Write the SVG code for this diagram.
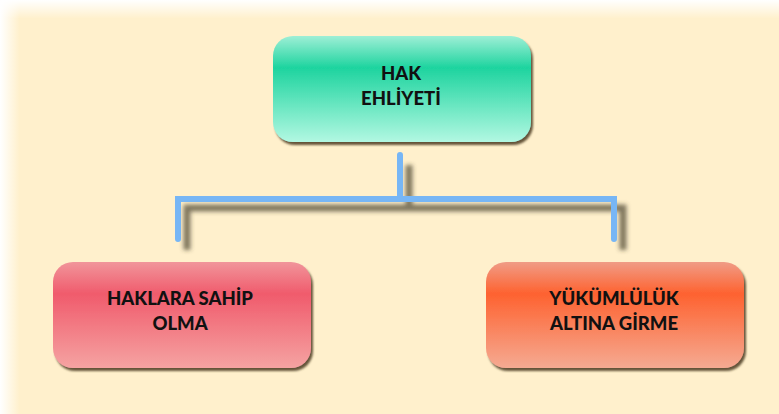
<svg xmlns="http://www.w3.org/2000/svg" width="779" height="414" viewBox="0 0 779 414">
<defs>
<linearGradient id="bgx" x1="0" y1="0" x2="1" y2="0">
<stop offset="0" stop-color="#FFFFFF"/><stop offset="0.025" stop-color="#FFF0CC"/><stop offset="1" stop-color="#FFF0CC"/>
</linearGradient>
<linearGradient id="bgy" x1="0" y1="0" x2="0" y2="1">
<stop offset="0" stop-color="#FFFFFF" stop-opacity="1"/><stop offset="0.045" stop-color="#FFFFFF" stop-opacity="0"/><stop offset="1" stop-color="#FFFFFF" stop-opacity="0"/>
</linearGradient>
<linearGradient id="gGreen" x1="0" y1="0" x2="0" y2="1">
<stop offset="0" stop-color="#9EEFD6"/><stop offset="0.3" stop-color="#1ED49F"/><stop offset="1" stop-color="#B2F8E2"/>
</linearGradient>
<linearGradient id="gPink" x1="0" y1="0" x2="0" y2="1">
<stop offset="0" stop-color="#F1959B"/><stop offset="0.3" stop-color="#F05B6C"/><stop offset="1" stop-color="#F5A3A2"/>
</linearGradient>
<linearGradient id="gOrange" x1="0" y1="0" x2="0" y2="1">
<stop offset="0" stop-color="#F09C86"/><stop offset="0.3" stop-color="#FE6230"/><stop offset="1" stop-color="#F5AA92"/>
</linearGradient>
<filter id="boxShadow" x="-10%" y="-10%" width="125%" height="130%">
<feGaussianBlur in="SourceAlpha" stdDeviation="1"/>
<feOffset dx="2" dy="3" result="o"/>
<feFlood flood-color="#4A3A20" flood-opacity="0.85"/>
<feComposite in2="o" operator="in"/>
<feMerge><feMergeNode/><feMergeNode in="SourceGraphic"/></feMerge>
</filter>
<filter id="lineShadow" x="-20%" y="-50%" width="140%" height="200%">
<feGaussianBlur stdDeviation="2"/>
</filter>
<style>
.lbl{font-family:Lato,"Open Sans","Liberation Sans",sans-serif;font-weight:900;font-size:18.5px;fill:#111;text-anchor:middle}
.conn{fill:none;stroke:#77B6F5;stroke-width:6;stroke-linecap:round;stroke-linejoin:miter}
.connS{fill:none;stroke:#4A4230;stroke-opacity:0.7;stroke-width:7;stroke-linejoin:miter}
</style>
</defs>
<rect width="779" height="414" fill="url(#bgx)"/>
<rect width="779" height="414" fill="url(#bgy)"/>
<g id="connectors">
<g filter="url(#lineShadow)">
<path class="connS" d="M409,165 V208 M187,250 V208 H623 V250"/>
</g>
<path class="conn" d="M400,155 V199 M178,239 V199 H614 V239"/>
</g>
<g id="node-hak-ehliyeti">
<rect x="273" y="36" width="258" height="106" rx="20" fill="url(#gGreen)" filter="url(#boxShadow)"/>
<text class="lbl" x="401" y="80">HAK</text>
<text class="lbl" x="401" y="105">EHLİYETİ</text>
</g>
<g id="node-haklara-sahip-olma">
<rect x="53" y="262" width="258" height="106" rx="20" fill="url(#gPink)" filter="url(#boxShadow)"/>
<text class="lbl" x="180" y="305">HAKLARA SAHİP</text>
<text class="lbl" x="180" y="330">OLMA</text>
</g>
<g id="node-yukumluluk-altina-girme">
<rect x="486" y="262" width="258" height="106" rx="20" fill="url(#gOrange)" filter="url(#boxShadow)"/>
<text class="lbl" x="614" y="305">YÜKÜMLÜLÜK</text>
<text class="lbl" x="614" y="330">ALTINA GİRME</text>
</g>
</svg>
